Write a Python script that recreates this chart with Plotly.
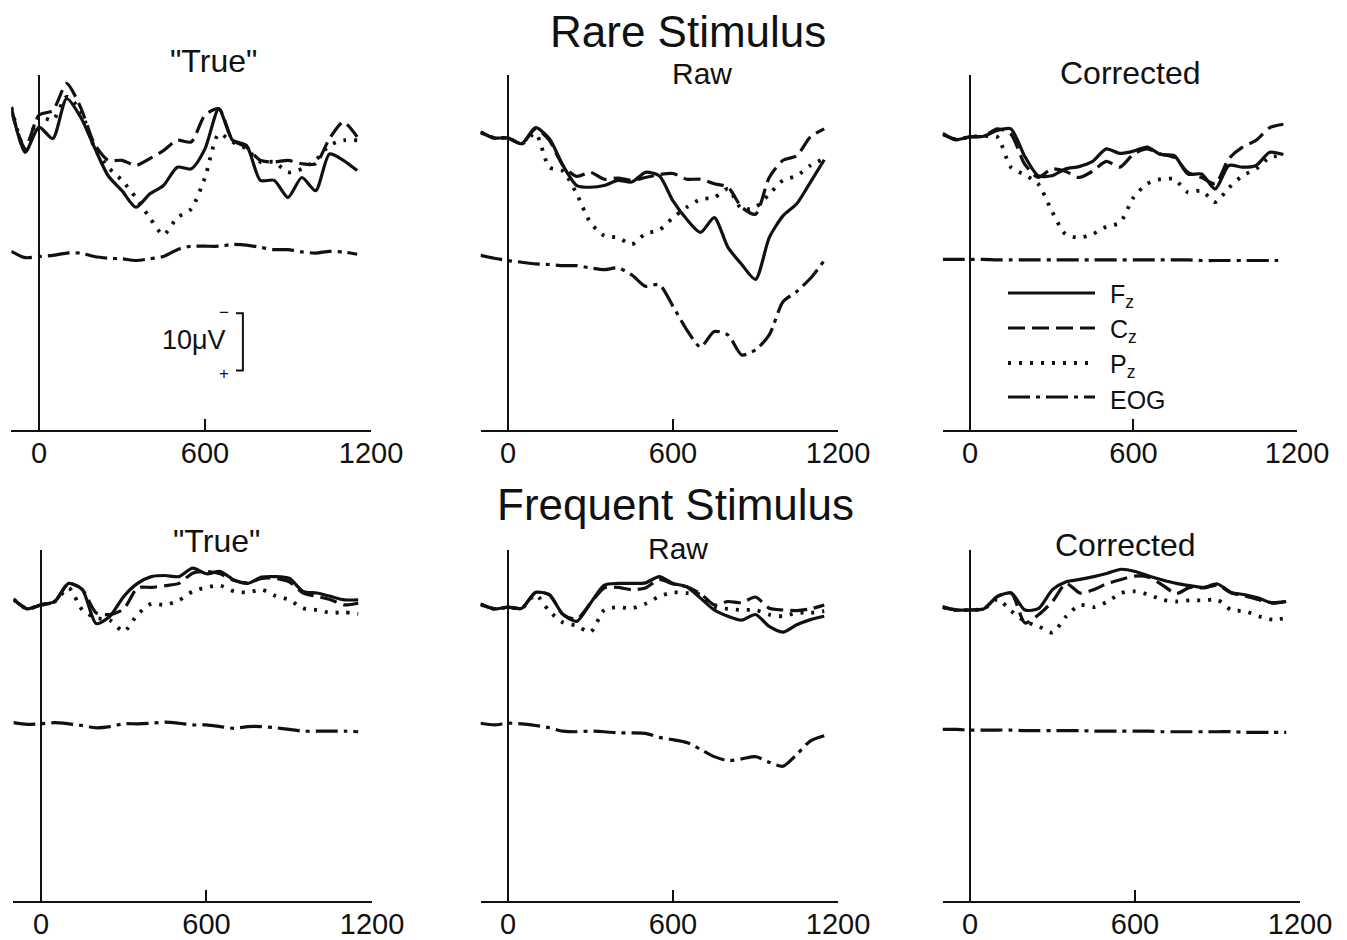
import plotly.graph_objects as go

W, H = 1347, 940

# ---------------- data (µV, negative up) ----------------
T = list(range(-100, 1151, 50))  # ms

RARE_TRUE_FZ = [-4.6, 3.3, -1.1, 0.9, -6.1, -2.9, 2.4, 7.4, 10.0, 12.9, 10.6, 9.1, 5.9, 6.2, 2.7, -4.3, 1.2, 2.1, 8.2, 8.2, 11.2, 7.7, 10.0, 3.6, 4.7, 6.5]
RARE_TRUE_CZ = [-4.0, 2.5, -3.2, -4.0, -8.7, -4.6, 1.8, 4.7, 4.7, 5.6, 4.4, 3.0, 1.2, 1.5, -3.2, -4.3, 1.2, 2.4, 4.7, 5.0, 4.7, 5.3, 5.3, 0.9, -2.0, 0.6]
RARE_TRUE_PZ = [-4.6, 2.8, -2.9, -2.3, -6.4, -4.0, 2.4, 5.9, 8.2, 11.2, 14.7, 17.7, 14.7, 13.2, 7.7, 0.1, 1.5, 2.7, 5.0, 5.0, 6.8, 6.2, 4.7, 2.1, 1.2, 1.2]
RARE_TRUE_EOG = [-0.7, 0.4, 0.2, 0.0, -0.4, -0.4, 0.2, 0.5, 0.6, 0.9, 0.6, 0.2, -1.0, -1.6, -1.6, -1.6, -1.9, -1.8, -1.4, -1.0, -1.0, -0.6, -0.4, -0.7, -0.6, -0.2]

RARE_RAW_FZ = [-0.2, 0.8, 0.8, 1.8, -1.0, 0.9, 5.6, 9.1, 9.4, 9.1, 8.2, 8.5, 6.8, 7.4, 11.8, 15.0, 17.3, 14.7, 19.9, 22.9, 25.5, 18.2, 14.4, 12.3, 8.5, 4.6]
RARE_RAW_CZ = [-0.2, 0.8, 0.8, 1.8, -0.8, 1.2, 5.6, 7.5, 6.8, 8.0, 7.8, 8.2, 7.7, 7.2, 7.0, 8.0, 8.0, 8.8, 9.4, 12.9, 14.1, 7.7, 4.7, 3.9, 0.6, -0.8]
RARE_RAW_PZ = [-0.2, 0.8, 0.8, 1.8, 0.0, 5.9, 6.6, 10.6, 15.6, 17.9, 18.2, 19.4, 17.5, 16.9, 14.7, 12.9, 11.5, 11.2, 9.7, 13.2, 12.9, 10.6, 8.2, 7.4, 5.6, 4.4]
RARE_RAW_EOG = [0.0, 0.5, 0.9, 1.2, 1.5, 1.6, 1.8, 1.8, 2.2, 2.5, 2.2, 3.4, 5.4, 5.1, 8.9, 13.0, 16.0, 13.3, 13.9, 17.4, 16.5, 13.9, 8.1, 6.3, 4.0, 0.9]

RARE_CORR_FZ = [0.1, 1.1, 0.6, 0.5, -0.5, -0.8, 3.9, 7.4, 7.4, 6.2, 5.8, 4.9, 2.7, 3.5, 3.1, 2.4, 3.7, 3.9, 7.1, 7.1, 9.7, 5.6, 5.9, 5.6, 3.3, 3.7]
RARE_CORR_CZ = [0.1, 1.1, 0.6, 0.5, -0.8, 0.1, 5.3, 7.7, 6.2, 6.6, 7.7, 6.6, 4.9, 5.9, 3.6, 2.7, 3.6, 4.2, 6.8, 7.7, 8.8, 4.4, 2.4, 1.2, -1.0, -1.6]
RARE_CORR_PZ = [0.1, 1.1, 0.6, 0.5, 0.6, 5.9, 7.2, 8.8, 13.5, 17.6, 18.2, 17.6, 16.3, 15.6, 11.2, 8.8, 8.0, 8.0, 10.3, 10.0, 12.0, 9.5, 7.4, 6.2, 4.2, 3.9]
RARE_CORR_EOG = [0.7, 0.7, 0.7, 0.7, 0.8, 0.8, 0.8, 0.8, 0.8, 0.8, 0.8, 0.8, 0.8, 0.8, 0.8, 0.8, 0.8, 0.8, 0.8, 0.9, 0.9, 0.9, 0.9, 0.9, 0.9, 0.9]

FREQ_TRUE_FZ = [-1.5, 0.2, -0.5, -1.1, -4.3, -3.2, 2.8, 1.5, -2.0, -4.3, -5.5, -5.7, -5.5, -7.0, -6.0, -6.4, -4.9, -4.3, -5.4, -5.5, -5.2, -2.9, -2.6, -2.0, -1.4, -1.4]
FREQ_TRUE_CZ = [-1.5, 0.2, -0.5, -1.1, -4.3, -3.2, 0.9, 1.2, 0.2, -3.5, -3.6, -3.9, -4.3, -6.1, -6.4, -6.0, -4.8, -4.4, -5.2, -5.2, -4.6, -2.6, -2.0, -1.4, -0.5, -0.8]
FREQ_TRUE_PZ = [-1.5, 0.2, -0.5, -1.1, -3.5, 0.4, 1.8, 2.2, 4.2, 1.2, -0.7, -0.5, -1.3, -2.9, -3.6, -3.9, -2.9, -2.7, -3.2, -2.1, -1.4, 0.1, 0.4, 0.9, 0.8, 1.1]
FREQ_TRUE_EOG = [-1.0, -0.7, -0.8, -1.0, -0.8, -0.5, -0.1, -0.3, -0.8, -0.8, -0.9, -1.1, -0.9, -0.6, -0.6, -0.3, 0.0, -0.3, -0.3, -0.1, 0.2, 0.5, 0.5, 0.5, 0.5, 0.6]

FREQ_RAW_FZ = [-0.6, 0.2, -0.1, 0.1, -2.7, -2.3, 1.2, 2.4, -0.8, -4.0, -4.3, -4.3, -4.4, -5.5, -4.3, -3.7, -1.7, 0.4, 1.5, 2.2, 1.2, 3.3, 4.3, 3.0, 2.1, 1.5]
FREQ_RAW_CZ = [-0.6, 0.2, -0.1, 0.1, -2.7, -2.3, 1.2, 2.0, -0.8, -3.5, -3.6, -3.2, -3.5, -5.0, -4.2, -3.7, -2.5, -0.5, -1.1, -0.9, -1.9, 0.1, 0.4, 0.5, 0.2, -0.5]
FREQ_RAW_PZ = [-0.6, 0.2, -0.1, 0.1, -2.3, 0.6, 2.6, 3.2, 4.3, 0.4, -0.1, 0.1, -0.7, -2.0, -2.7, -2.6, -2.3, -0.2, 0.2, 0.4, 0.4, 1.2, 1.5, 0.9, 0.9, 0.6]
FREQ_RAW_EOG = [-0.9, -0.6, -0.9, -0.8, -0.5, -0.1, 0.5, 0.6, 0.5, 0.6, 0.8, 0.8, 0.9, 1.6, 2.0, 2.5, 3.7, 5.0, 5.7, 5.4, 5.0, 6.0, 6.7, 4.6, 2.2, 1.3]

FREQ_CORR_FZ = [-0.1, 0.4, 0.4, 0.2, -2.0, -2.6, 0.4, 0.1, -3.2, -4.6, -5.0, -5.5, -6.1, -6.8, -6.4, -5.6, -4.9, -4.3, -3.9, -3.6, -4.2, -2.7, -2.3, -1.7, -0.8, -1.1]
FREQ_CORR_CZ = [-0.1, 0.4, 0.4, 0.2, -2.0, -2.6, 2.7, 1.2, -1.1, -4.3, -2.6, -3.2, -4.3, -5.0, -5.6, -5.4, -4.0, -2.5, -3.6, -3.5, -4.0, -2.6, -2.1, -1.4, -0.9, -1.1]
FREQ_CORR_PZ = [-0.1, 0.4, 0.4, 0.2, -1.5, 0.6, 2.4, 3.3, 4.4, 1.5, -0.5, -0.1, -1.1, -2.6, -2.9, -2.3, -1.4, -1.1, -1.3, -1.3, -1.4, 0.4, 0.6, 1.5, 2.1, 1.8]
FREQ_CORR_EOG = [0.2, 0.2, 0.3, 0.3, 0.3, 0.3, 0.4, 0.4, 0.4, 0.4, 0.4, 0.5, 0.5, 0.5, 0.5, 0.5, 0.6, 0.6, 0.6, 0.6, 0.6, 0.6, 0.7, 0.7, 0.7, 0.7]

X_TICKS = [0, 600, 1200]
X_TICK_TEXT = ["0", "600", "1200"]
CHANNELS = ["Fz", "Cz", "Pz", "EOG"]
LEGEND_TEXT = ["F<sub>z</sub>", "C<sub>z</sub>", "P<sub>z</sub>", "EOG"]
SCALE_UV = 10

# ---------------- layout constants ----------------
EOG_OFFSET = 21.3          # display offset of EOG trace (µV)
Y_RANGE = [51.8, -10.2]    # reversed: negative up
X_RANGE = [-100, 1200]
FONT = "Liberation Sans"
INK = "#111111"

STYLE = {
    "Fz": dict(width=3.2, dash="solid"),
    "Cz": dict(width=3.2, dash="17px,7px"),
    "Pz": dict(width=3.8, dash="3px,8px"),
    "EOG": dict(width=3.2, dash="22px,6px,4px,6px"),
}

X_DOM_PX = [[(11.3, 371), (480.5, 838), (942.7, 1297)],
            [(13.4, 372), (480.5, 838), (942.5, 1300)]]
Y_DOM_PX = [(75, 430), (550, 901)]

PANELS = [
    (0, 0, [RARE_TRUE_FZ, RARE_TRUE_CZ, RARE_TRUE_PZ, RARE_TRUE_EOG]),
    (0, 1, [RARE_RAW_FZ, RARE_RAW_CZ, RARE_RAW_PZ, RARE_RAW_EOG]),
    (0, 2, [RARE_CORR_FZ, RARE_CORR_CZ, RARE_CORR_PZ, RARE_CORR_EOG]),
    (1, 0, [FREQ_TRUE_FZ, FREQ_TRUE_CZ, FREQ_TRUE_PZ, FREQ_TRUE_EOG]),
    (1, 1, [FREQ_RAW_FZ, FREQ_RAW_CZ, FREQ_RAW_PZ, FREQ_RAW_EOG]),
    (1, 2, [FREQ_CORR_FZ, FREQ_CORR_CZ, FREQ_CORR_PZ, FREQ_CORR_EOG]),
]

fig = go.Figure()
layout = dict(
    width=W, height=H, margin=dict(l=0, r=0, t=0, b=0, autoexpand=False),
    paper_bgcolor="white", plot_bgcolor="white",
    showlegend=False, hovermode=False,
    font=dict(family=FONT, color=INK),
)

for i, (row, col, series) in enumerate(PANELS, start=1):
    xa = "x" if i == 1 else f"x{i}"
    ya = "y" if i == 1 else f"y{i}"
    x0, x1 = X_DOM_PX[row][col]
    yt, yb = Y_DOM_PX[row]
    layout[f"xaxis{'' if i == 1 else i}"] = dict(
        domain=[x0 / W, x1 / W], anchor=ya, range=X_RANGE,
        showgrid=False, showline=True, linecolor=INK, linewidth=2,
        zeroline=True, zerolinecolor=INK, zerolinewidth=2,
        ticks="inside", ticklen=11, tickwidth=2, tickcolor=INK,
        tickvals=X_TICKS, ticktext=X_TICK_TEXT,
        tickfont=dict(family=FONT, size=29, color=INK),
        ticklabelstandoff=-4, automargin=False,
    )
    layout[f"yaxis{'' if i == 1 else i}"] = dict(
        domain=[1 - yb / H, 1 - yt / H], anchor=xa, range=Y_RANGE,
        showgrid=False, showline=False, zeroline=False,
        showticklabels=False, ticks="", automargin=False,
    )
    for ch, vals in zip(CHANNELS, series):
        off = EOG_OFFSET if ch == "EOG" else 0.0
        fig.add_trace(go.Scatter(
            x=T, y=[v + off for v in vals], xaxis=xa, yaxis=ya,
            mode="lines", line=dict(color=INK, shape="spline", smoothing=0.7, **STYLE[ch]),
            name=ch, hoverinfo="skip",
        ))

# scale bar (10 µV) in first panel
SB_X, SB_TICK = 737, 25
SB_Y0 = 31.4
fig.add_trace(go.Scatter(
    x=[SB_X - SB_TICK, SB_X, SB_X, SB_X - SB_TICK],
    y=[SB_Y0, SB_Y0, SB_Y0 + SCALE_UV, SB_Y0 + SCALE_UV],
    xaxis="x", yaxis="y", mode="lines", line=dict(color=INK, width=2),
    hoverinfo="skip",
))

ann = []
def paper_text(text, xp, yp, size, anchor="center"):
    ann.append(dict(text=text, x=xp / W, y=1 - yp / H, xref="paper", yref="paper",
                    xanchor=anchor, yanchor="middle", showarrow=False,
                    font=dict(family=FONT, size=size, color=INK)))

paper_text("Rare Stimulus", 688, 31, 44)
paper_text("Frequent Stimulus", 675, 504, 44)
paper_text('"True"', 213, 61, 32)
paper_text("Raw", 702, 73, 30)
paper_text("Corrected", 1130, 73, 32)
paper_text('"True"', 216, 541, 32)
paper_text("Raw", 678, 548, 30)
paper_text("Corrected", 1125, 545, 32)

ann.append(dict(text=f"{SCALE_UV}μV", x=SB_X - 175, y=SB_Y0 + 4.6, xref="x", yref="y",
                showarrow=False, font=dict(family=FONT, size=27, color=INK)))
ann.append(dict(text="−", x=SB_X - 70, y=SB_Y0 - 0.2, xref="x", yref="y",
                showarrow=False, font=dict(family=FONT, size=17, color=INK)))
ann.append(dict(text="+", x=SB_X - 68, y=SB_Y0 + SCALE_UV + 0.5, xref="x", yref="y",
                showarrow=False, font=dict(family=FONT, size=17, color=INK)))

# legend (drawn manually, inside the Rare / Corrected panel)
shapes = []
LEG_X0, LEG_X1, LEG_TX = 1008, 1095, 1108
LEG_Y = [293, 328, 363, 397]
for ch, label, yp in zip(CHANNELS, LEGEND_TEXT, LEG_Y):
    st = STYLE[ch]
    shapes.append(dict(type="line", xref="paper", yref="paper",
                       x0=LEG_X0 / W, x1=LEG_X1 / W, y0=1 - yp / H, y1=1 - yp / H,
                       line=dict(color=INK, width=st["width"], dash=st["dash"])))
    paper_text(label, LEG_TX, yp + 3, 25, anchor="left")

layout["annotations"] = ann
layout["shapes"] = shapes
fig.update_layout(**layout)
fig.write_html("out.html")
